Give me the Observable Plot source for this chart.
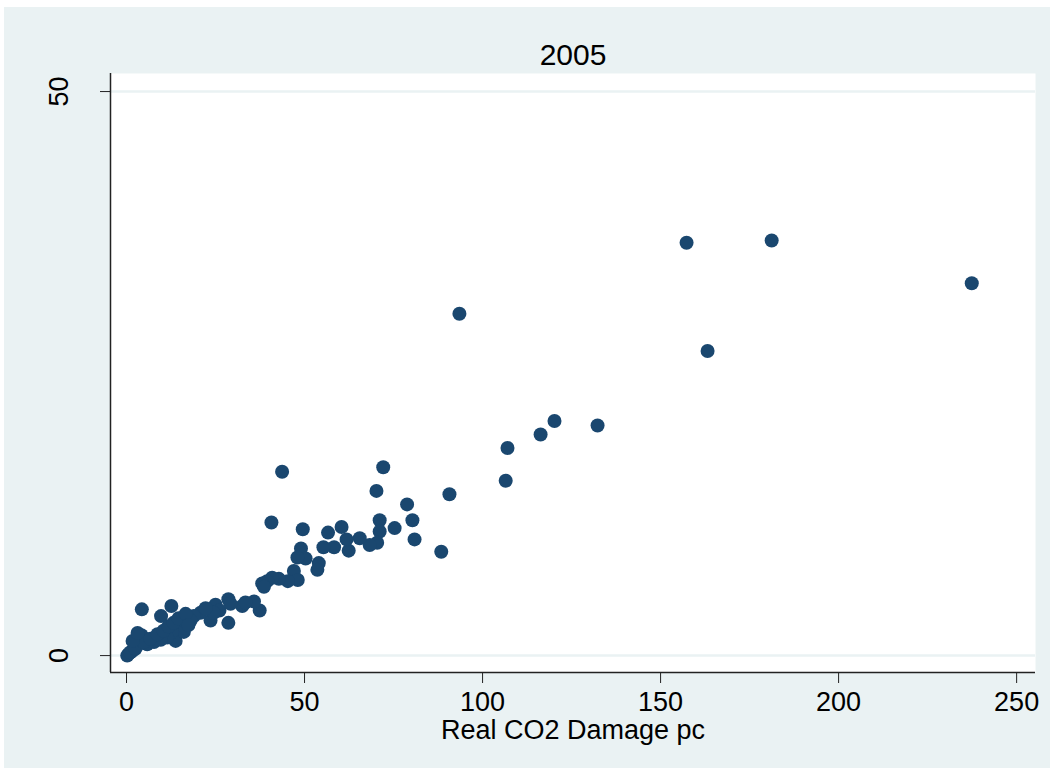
<!DOCTYPE html>
<html><head><meta charset="utf-8">
<script src="https://cdn.jsdelivr.net/npm/d3@7"></script>
<script src="https://cdn.jsdelivr.net/npm/@observablehq/plot@0.6"></script>
<style>
body{margin:0;background:#fff;}
#bg{position:absolute;left:4px;top:7px;width:1046px;height:761px;background:#eaf2f3;}
#chart{position:absolute;left:0;top:0;}
</style></head><body><div id="bg"></div><div id="chart"></div>
<script>
const title = "2005";
const xLabel = "Real CO2 Damage pc";
const xTicks = [0, 50, 100, 150, 200, 250];
const yTicks = [0, 50];
const damage = [237.4,157.3,181.2,163.2,93.5,132.3,120.2,116.3,107.0,106.5,90.7,88.4,78.8,80.3,80.9,75.3,72.1,70.2,71.1,71.1,70.4,68.3,65.5,62.4,61.8,60.4,58.3,56.6,55.3,54.0,53.6,49.5,49.0,50.3,48.0,43.7,40.7,47.0,48.1,45.3,42.8,40.9,39.5,38.1,38.6,37.4,35.8,32.5,28.6,28.6,25.0,26.1,23.6,24.5,20.8,18.9,18.0,12.6,9.7,4.3,15.2,13.8,16.1,12.8,11.4,9.6,7.7,5.8,4.2,3.5,3.0,1.6,0.6,0.2,1.1,2.5,4.8,6.7,8.7,10.4,11.8,13.2,14.6,16.6,17.4,22.2,29.2,33.4,1.7,3.1];
const value = [33.0,36.6,36.8,27.0,30.3,20.4,20.8,19.6,18.4,15.5,14.3,9.2,13.4,12.0,10.3,11.3,16.7,14.6,12.0,11.0,10.0,9.8,10.4,9.3,10.3,11.4,9.6,10.9,9.6,8.2,7.6,11.2,9.5,8.6,8.7,16.3,11.8,7.5,6.7,6.6,6.8,6.9,6.6,6.4,6.1,4.0,4.8,4.4,5.0,2.9,4.5,4.0,3.1,3.8,3.8,3.5,3.1,4.4,3.5,4.1,2.7,1.3,2.1,2.1,1.6,1.4,1.2,1.0,1.8,1.5,0.9,0.4,0.15,0.0,0.3,0.6,1.2,1.5,1.9,2.2,2.6,2.9,3.3,3.7,2.7,4.2,4.6,4.7,1.3,2.0];
const xDomain = [-4.5, 255.3];
const yDomain = [-1.5, 51.6];
const data = damage.map((x, i) => ({x, y: value[i]}));
const plot = Plot.plot({
  width: 1053, height: 771,
  marginLeft: 110, marginRight: 18, marginTop: 73, marginBottom: 99,
  style: {background: "transparent", fontFamily: "'Liberation Sans', Arial, sans-serif", color: "#000"},
  x: {domain: xDomain},
  y: {domain: yDomain},
  marks: [
    Plot.frame({fill: "white", stroke: null}),
    Plot.gridY(yTicks, {stroke: "#eaf2f3", strokeOpacity: 1, strokeWidth: 2.5}),
    Plot.ruleX([xDomain[0]], {stroke: "#222", strokeWidth: 1.5}),
    Plot.ruleY([yDomain[0]], {stroke: "#222", strokeWidth: 1.5}),
    Plot.axisY(yTicks, {tickSize: 10, tickRotate: -90, fontSize: 27, tickPadding: 33, label: null, stroke: "#222"}),
    Plot.axisX(xTicks, {tickSize: 11, fontSize: 27, tickPadding: 8, label: null, stroke: "#222"}),
    Plot.dot(data, {x: "x", y: "y", r: 7, fill: "#1a476f", stroke: null}),
    Plot.text([title], {frameAnchor: "top", dy: -18, lineAnchor: "middle", fontSize: 30}),
    Plot.text([xLabel], {frameAnchor: "bottom", dy: 58, lineAnchor: "middle", fontSize: 27})
  ]
});
document.getElementById("chart").append(plot);
</script></body></html>
